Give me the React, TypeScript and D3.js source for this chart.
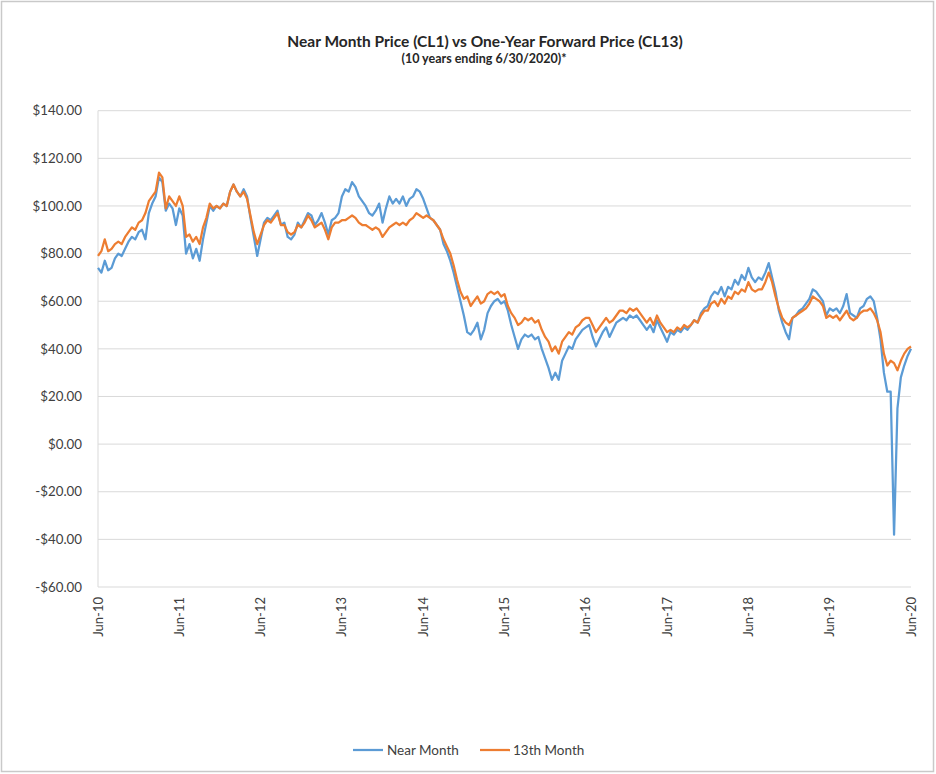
import React from "react";
import * as d3 from "d3";

const nearMonth: number[] = [
  74, 72, 77, 73, 74, 78, 80, 79, 82, 85, 87, 86, 89, 90, 86, 97, 101, 104, 112, 110, 98, 101, 99, 92, 99,
  96, 80, 84, 78, 82, 77, 86, 93, 100, 98, 100, 99, 101, 100, 106, 109, 106, 104, 107, 104, 95, 87, 79, 86,
  93, 95, 94, 96, 98, 92, 93, 87, 86, 88, 93, 91, 94, 97, 96, 92, 94, 97, 93, 88, 94, 95, 97, 104,
  107, 106, 110, 108, 104, 102, 100, 97, 96, 98, 101, 93, 99, 104, 101, 103, 101, 104, 100, 103, 104, 107, 106, 103,
  99, 95, 94, 92, 90, 84, 81, 77, 72, 66, 60, 54, 47, 46, 48, 51, 44, 48, 55, 58, 60, 61, 59, 60,
  56, 50, 45, 40, 44, 46, 45, 46, 44, 45, 40, 36, 32, 27, 30, 27, 35, 38, 41, 40, 44, 46, 48, 49,
  50, 45, 41, 44, 47, 49, 45, 48, 51, 52, 53, 52, 54, 53, 54, 52, 50, 48, 50, 47, 52, 49, 46, 43,
  47, 46, 48, 47, 49, 48, 50, 52, 51, 55, 57, 58, 62, 64, 63, 66, 62, 66, 65, 69, 67, 71, 69, 74,
  70, 68, 70, 69, 72, 76, 70, 64, 56, 51, 47, 44, 53, 54, 56, 57, 59, 61, 65, 64, 62, 60, 54, 57,
  56, 57, 55, 58, 63, 55, 54, 53, 57, 58, 61, 62, 60, 53, 44, 30, 22, 22, -38, 15, 28, 33, 37, 40,
];

const month13: number[] = [
  79, 81, 86, 81, 82, 84, 85, 84, 87, 89, 91, 90, 93, 94, 97, 102, 104, 106, 114, 112, 99, 104, 102, 100, 104,
  100, 87, 88, 85, 87, 84, 91, 95, 101, 99, 100, 99, 101, 100, 106, 109, 106, 104, 106, 103, 96, 89, 84, 88,
  92, 94, 93, 95, 97, 92, 92, 89, 88, 89, 92, 91, 93, 96, 94, 91, 92, 93, 90, 86, 91, 93, 93, 94,
  94, 95, 96, 95, 93, 92, 92, 91, 90, 91, 90, 87, 89, 91, 92, 93, 92, 93, 92, 94, 95, 97, 96, 95,
  96, 95, 94, 92, 90, 86, 83, 80, 75, 69, 64, 61, 62, 58, 60, 62, 59, 60, 63, 64, 63, 64, 62, 63,
  58, 55, 53, 50, 51, 53, 52, 53, 51, 52, 48, 45, 43, 39, 41, 38, 43, 45, 47, 46, 49, 50, 52, 53,
  53, 50, 47, 49, 51, 53, 51, 52, 54, 56, 56, 55, 57, 56, 57, 55, 53, 51, 53, 50, 54, 51, 49, 47,
  48, 47, 49, 48, 50, 49, 50, 52, 51, 54, 56, 56, 59, 60, 58, 61, 59, 62, 61, 64, 63, 65, 64, 68,
  65, 64, 65, 65, 68, 72, 68, 62, 57, 53, 51, 50, 53, 54, 55, 56, 57, 59, 62, 61, 60, 58, 53, 54,
  53, 54, 52, 54, 56, 53, 52, 53, 55, 56, 56, 57, 55, 52, 47, 38, 33, 35, 34, 31, 35, 38, 40, 41,
];

const xTickLabels: string[] = ["Jun-10", "Jun-11", "Jun-12", "Jun-13", "Jun-14", "Jun-15", "Jun-16", "Jun-17", "Jun-18", "Jun-19", "Jun-20"];
const yTicks: number[] = [140, 120, 100, 80, 60, 40, 20, 0, -20, -40, -60];
const seriesNames: string[] = ["Near Month", "13th Month"];
const seriesColors: string[] = ["#5b9bd5", "#ed7d31"];

const W = 936;
const H = 774;
const left = 98;
const right = 911;
const top = 110.7;
const bottom = 587;

const fmt = (v: number) => (v < 0 ? "-$" : "$") + Math.abs(v).toFixed(2);

export default function App() {
  const n = nearMonth.length - 1;
  const x = d3.scaleLinear().domain([0, n]).range([left, right]);
  const y = d3.scaleLinear().domain([-60, 140]).range([bottom, top]);
  const line = d3
    .line<number>()
    .x((_, i) => x(i))
    .y((d) => y(d));
  const tickStep = n / (xTickLabels.length - 1);
  const font = "Lato, 'Open Sans', sans-serif";
  const series = [nearMonth, month13];

  return (
    <svg
      width={W}
      height={H}
      style={{ position: "absolute", left: 0, top: 0, background: "#fff" }}
      fontFamily={font}
    >
      <rect x={1.5} y={1.5} width={932} height={770} fill="#fff" stroke="#c9c9c9" strokeWidth={1.5} />
      <text x={485} y={47} textAnchor="middle" fontSize={15.5} fontWeight="bold" fill="#262626">
        Near Month Price (CL1) vs One-Year Forward Price (CL13)
      </text>
      <text x={484} y={63} textAnchor="middle" fontSize={12.5} fontWeight="bold" fill="#262626">
        (10 years ending 6/30/2020)*
      </text>
      {yTicks.map((t) => (
        <g key={t}>
          <line x1={left} x2={right} y1={y(t)} y2={y(t)} stroke="#d9d9d9" strokeWidth={1} />
          <text x={82} y={y(t)} dy="0.35em" textAnchor="end" fontSize={13.3} fill="#404040">
            {fmt(t)}
          </text>
        </g>
      ))}
      <line x1={left} x2={left} y1={top} y2={bottom} stroke="#d9d9d9" strokeWidth={1} />
      {xTickLabels.map((lab, k) => {
        const px = x(k * tickStep);
        return (
          <text
            key={lab}
            transform={`translate(${px + 4.5},${597}) rotate(-90)`}
            textAnchor="end"
            fontSize={13}
            fill="#404040"
          >
            {lab}
          </text>
        );
      })}
      {series.map((s, k) => (
        <path
          key={k}
          d={line(s) || ""}
          fill="none"
          stroke={seriesColors[k]}
          strokeWidth={2.25}
          strokeLinejoin="round"
        />
      ))}
      <g fontSize={13.5} fill="#404040">
        <line x1={353} x2={383} y1={750} y2={750} stroke={seriesColors[0]} strokeWidth={2.25} />
        <text x={387} y={750} dy="0.35em">{seriesNames[0]}</text>
        <line x1={480} x2={510} y1={750} y2={750} stroke={seriesColors[1]} strokeWidth={2.25} />
        <text x={513} y={750} dy="0.35em">{seriesNames[1]}</text>
      </g>
    </svg>
  );
}
